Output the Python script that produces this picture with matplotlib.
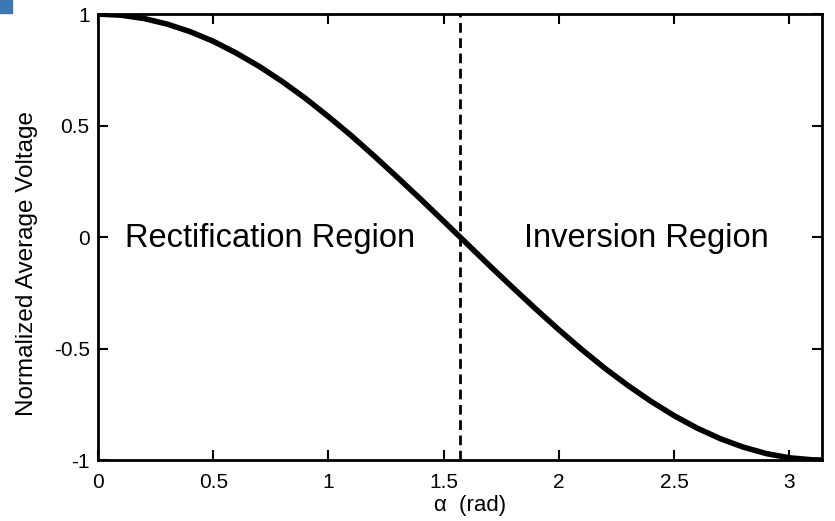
import numpy as np
import matplotlib
matplotlib.use('Agg')
import matplotlib.pyplot as plt
from matplotlib.patches import Rectangle

plt.rcParams['font.family'] = ['Liberation Sans', 'DejaVu Sans']

# firing angle (rad) and normalized average voltage
alpha = [0.0, 0.1, 0.2, 0.3, 0.4, 0.5, 0.6, 0.7, 0.8, 0.9, 1.0,
         1.1, 1.2, 1.3, 1.4, 1.5, 1.6, 1.7, 1.8, 1.9, 2.0, 2.1,
         2.2, 2.3, 2.4, 2.5, 2.6, 2.7, 2.8, 2.9, 3.0, 3.1, 3.1416]
vavg = [1.000, 0.995, 0.980, 0.955, 0.921, 0.878, 0.825, 0.765, 0.697,
        0.622, 0.540, 0.454, 0.362, 0.267, 0.170, 0.071, -0.029, -0.129,
        -0.227, -0.323, -0.416, -0.505, -0.589, -0.666, -0.737, -0.801,
        -0.857, -0.904, -0.942, -0.971, -0.990, -0.999, -1.000]
boundary = 1.5708
xticks = [0, 0.5, 1, 1.5, 2, 2.5, 3]
yticks = [-1, -0.5, 0, 0.5, 1]

fig = plt.figure(figsize=(8.35, 5.21), dpi=100)
ax = fig.add_axes([0.1174, 0.117, 0.867, 0.856])

ax.plot(alpha, vavg, color='black', lw=4, solid_capstyle='round')
ax.axvline(boundary, color='black', lw=2, ls=(0, (3.5, 2.0)))

ax.text(0.117, -0.045, 'Rectification Region', fontsize=23.5, va='baseline')
ax.text(1.848, -0.045, 'Inversion Region', fontsize=23.5, va='baseline')

ax.set_xlim(0, np.pi)
ax.set_ylim(-1, 1)
ax.set_xticks(xticks)
ax.set_yticks(yticks)
ax.set_xticklabels(['0', '0.5', '1', '1.5', '2', '2.5', '3'])
ax.set_yticklabels(['-1', '-0.5', '0', '0.5', '1'])
ax.tick_params(direction='in', top=True, right=True, length=7, width=1.5,
               labelsize=15)
ax.tick_params(axis='x', pad=9)
ax.tick_params(axis='y', pad=6)
for s in ax.spines.values():
    s.set_linewidth(2)

ax.set_xlabel('α  (rad)', fontsize=16)
ax.set_ylabel('Normalized Average Voltage', fontsize=17.5)
ax.xaxis.set_label_coords(0.514, -0.078)
ax.yaxis.set_label_coords(-0.083, 0.44)

# small blue marker in the corner of the original image
fig.patches.append(Rectangle((0, 1 - 13 / 521), 12 / 835, 13 / 521,
                             transform=fig.transFigure, color='#3b78b4'))

fig.savefig('out.png', dpi=100)
